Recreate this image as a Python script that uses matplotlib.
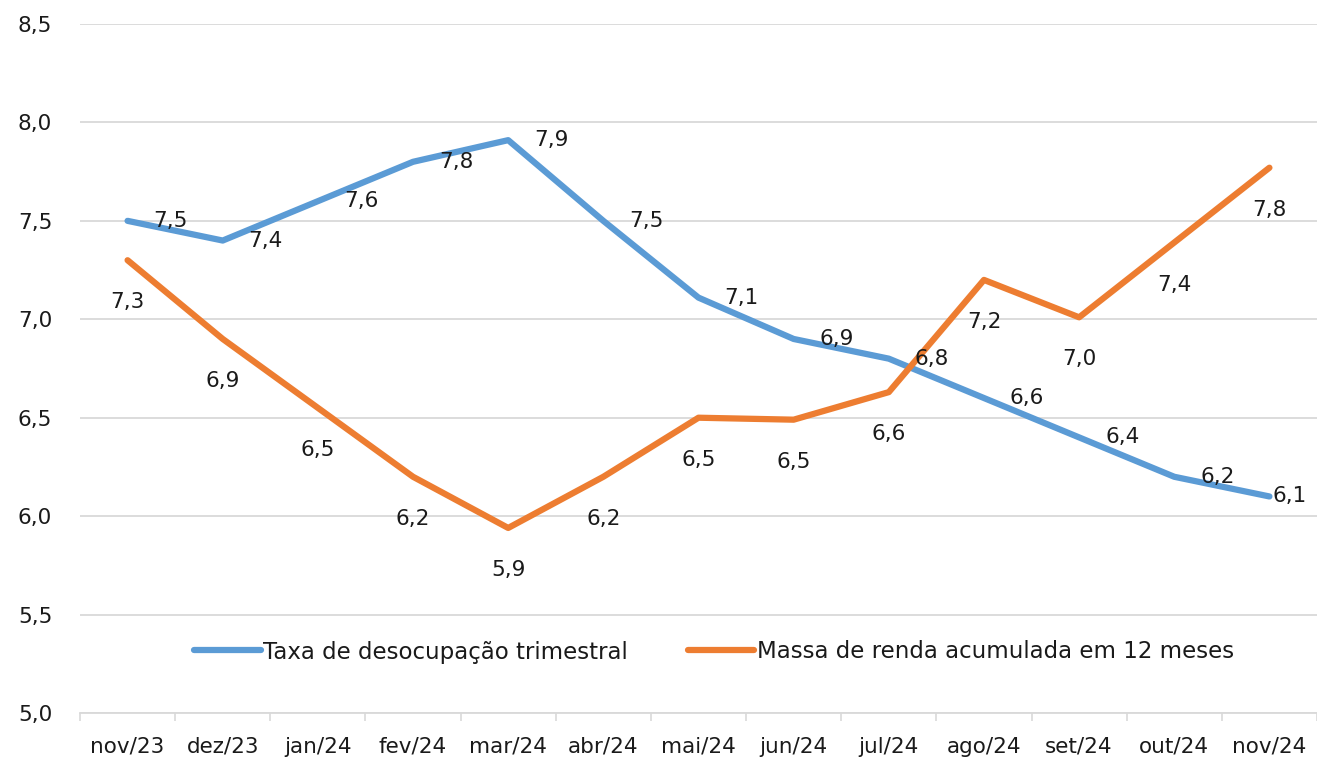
import numpy as np
import matplotlib
matplotlib.use("Agg")
import matplotlib.pyplot as plt
from matplotlib.ticker import MultipleLocator, FixedLocator

months = ["nov/23", "dez/23", "jan/24", "fev/24", "mar/24", "abr/24", "mai/24",
          "jun/24", "jul/24", "ago/24", "set/24", "out/24", "nov/24"]
taxa = [7.5, 7.4, 7.6, 7.8, 7.91, 7.5, 7.11, 6.9, 6.8, 6.6, 6.4, 6.2, 6.1]
massa = [7.3, 6.9, 6.55, 6.2, 5.94, 6.2, 6.5, 6.49, 6.63, 7.2, 7.01, 7.39, 7.77]
taxa_name = "Taxa de desocupação trimestral"
massa_name = "Massa de renda acumulada em 12 meses"

blue = "#5B9BD5"
orange = "#ED7D31"
plt.rcParams["font.family"] = ["DejaVu Sans"]
fs = 15.5
tc = "#1a1a1a"

fig = plt.figure(figsize=(13.17, 7.61), dpi=100)
ax = fig.add_axes([80 / 1317, 48 / 761, 1237 / 1317, 689 / 761])

x = np.arange(len(months))
ax.plot(x, taxa, color=blue, lw=4.5, solid_capstyle="round", solid_joinstyle="round", label=taxa_name, zorder=3)
ax.plot(x, massa, color=orange, lw=4.5, solid_capstyle="round", solid_joinstyle="round", label=massa_name, zorder=3)

def fmt(v):
    return "{:.1f}".format(v).replace(".", ",")

for i, v in enumerate(taxa):
    dx = 3 if i == len(taxa) - 1 else 26
    ax.annotate(fmt(v), (i, v), xytext=(dx, 0), textcoords="offset pixels",
                ha="left", va="center", fontsize=fs, color=tc, zorder=4)
for i, v in enumerate(massa):
    ax.annotate(fmt(v), (i, v), xytext=(0, -42), textcoords="offset pixels",
                ha="center", va="center", fontsize=fs, color=tc, zorder=4)

ax.set_xlim(-0.5, len(months) - 0.5)
ax.set_ylim(5.0, 8.5)
ax.yaxis.set_major_locator(MultipleLocator(0.5))
ax.yaxis.set_major_formatter(matplotlib.ticker.FuncFormatter(lambda v, p: fmt(v)))
ax.grid(axis="y", color="#D9D9D9", lw=1.3, zorder=0)
ax.set_axisbelow(True)

ax.set_xticks(x, labels=months)
ax.xaxis.set_minor_locator(FixedLocator(np.arange(-0.5, len(months), 1.0)))
ax.tick_params(axis="x", which="major", length=0, pad=17, labelsize=fs, colors=tc)
ax.tick_params(axis="x", which="minor", length=6, width=1.2, color="#D9D9D9")
ax.tick_params(axis="y", length=0, pad=20, labelsize=fs, colors=tc)

for s in ["top", "right", "left"]:
    ax.spines[s].set_visible(False)
ax.spines["bottom"].set_color("#D9D9D9")
ax.spines["bottom"].set_linewidth(1.3)

ax.legend(loc="center", bbox_to_anchor=((714 - 80) / 1237, (713 - 652) / 689), ncol=2,
          frameon=False, fontsize=16.5, handlelength=2.9, handletextpad=0.12,
          columnspacing=2.6, labelcolor=tc)

plt.savefig("out.png", dpi=100)
